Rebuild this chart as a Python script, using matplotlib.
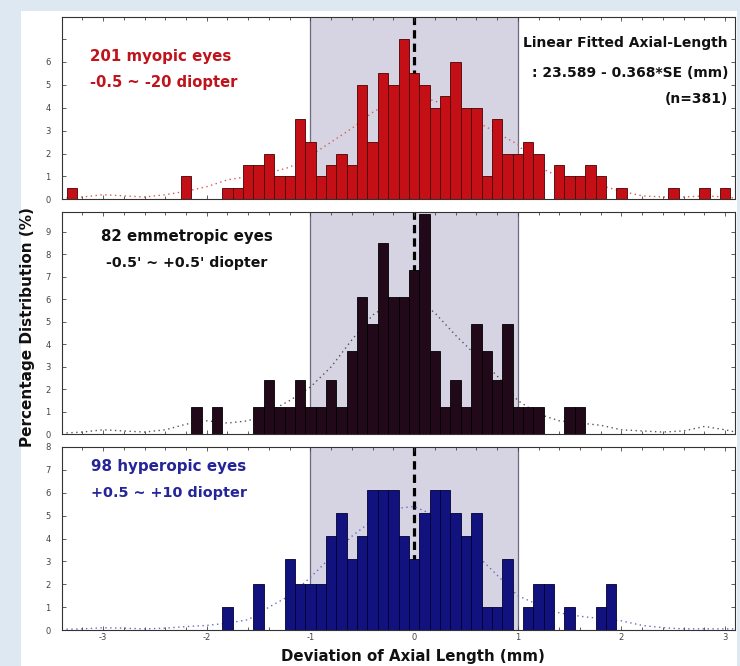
import matplotlib
matplotlib.use("Agg")
import matplotlib.pyplot as plt
from matplotlib.patches import Rectangle
from matplotlib.ticker import MultipleLocator

plt.rcParams['font.family'] = ['DejaVu Sans']

# ---- histogram data: bin centres (mm) and percentage of eyes per 0.1 mm bin ----
myopic_dev = [-3.3, -2.2, -1.8, -1.7, -1.6, -1.5, -1.4, -1.3, -1.2, -1.1, -1.0,
              -0.9, -0.8, -0.7, -0.6, -0.5, -0.4, -0.3, -0.2, -0.1, 0.0, 0.1,
              0.2, 0.3, 0.4, 0.5, 0.6, 0.7, 0.8, 0.9, 1.0, 1.1, 1.2, 1.4, 1.5,
              1.6, 1.7, 1.8, 2.0, 2.5, 2.8, 3.0]
myopic_pct = [0.5, 1.0, 0.5, 0.5, 1.5, 1.5, 2.0, 1.0, 1.0, 3.5, 2.5,
              1.0, 1.5, 2.0, 1.5, 5.0, 2.5, 5.5, 5.0, 7.0, 5.5, 5.0,
              4.0, 4.5, 6.0, 4.0, 4.0, 1.0, 3.5, 2.0, 2.0, 2.5, 2.0, 1.5, 1.0,
              1.0, 1.5, 1.0, 0.5, 0.5, 0.5, 0.5]

emmetropic_dev = [-2.1, -1.9, -1.5, -1.4, -1.3, -1.2, -1.1, -1.0, -0.9, -0.8,
                  -0.7, -0.6, -0.5, -0.4, -0.3, -0.2, -0.1, 0.0, 0.1, 0.2, 0.3,
                  0.4, 0.5, 0.6, 0.7, 0.8, 0.9, 1.0, 1.1, 1.2, 1.5, 1.6]
emmetropic_pct = [1.2, 1.2, 1.2, 2.4, 1.2, 1.2, 2.4, 1.2, 1.2, 2.4,
                  1.2, 3.7, 6.1, 4.9, 8.5, 6.1, 6.1, 7.3, 9.8, 3.7, 1.2,
                  2.4, 1.2, 4.9, 3.7, 2.4, 4.9, 1.2, 1.2, 1.2, 1.2, 1.2]

hyperopic_dev = [-1.8, -1.5, -1.2, -1.1, -1.0, -0.9, -0.8, -0.7, -0.6, -0.5,
                 -0.4, -0.3, -0.2, -0.1, 0.0, 0.1, 0.2, 0.3, 0.4, 0.5, 0.6,
                 0.7, 0.8, 0.9, 1.1, 1.2, 1.3, 1.5, 1.8, 1.9]
hyperopic_pct = [1.0, 2.0, 3.1, 2.0, 2.0, 2.0, 4.1, 5.1, 3.1, 4.1,
                 6.1, 6.1, 6.1, 4.1, 3.1, 5.1, 6.1, 6.1, 5.1, 4.1, 5.1,
                 1.0, 1.0, 3.1, 1.0, 2.0, 2.0, 1.0, 1.0, 2.0]

# ---- smoothed distribution curves (dotted) ----
curve_x = [-3.4, -3.2, -3.0, -2.8, -2.6, -2.4, -2.2, -2.0, -1.8, -1.6, -1.4,
           -1.2, -1.0, -0.8, -0.6, -0.4, -0.2, 0.0, 0.2, 0.4, 0.6, 0.8, 1.0,
           1.2, 1.4, 1.6, 1.8, 2.0, 2.2, 2.4, 2.6, 2.8, 3.0, 3.1]
myopic_curve = [0.05, 0.1, 0.2, 0.15, 0.1, 0.2, 0.35, 0.55, 0.85, 1.0, 1.15,
                1.4, 1.9, 2.5, 3.1, 3.8, 4.3, 4.5, 4.3, 3.9, 3.4, 2.9, 2.4,
                1.4, 1.0, 0.8, 0.6, 0.35, 0.15, 0.1, 0.1, 0.15, 0.1, 0.05]
emmetropic_curve = [0.05, 0.1, 0.2, 0.15, 0.1, 0.2, 0.45, 0.6, 0.5, 0.6, 1.0,
                    1.5, 2.1, 3.0, 4.2, 5.3, 5.9, 6.1, 5.4, 4.4, 3.5, 2.6, 1.5,
                    0.9, 0.6, 0.5, 0.4, 0.2, 0.15, 0.1, 0.15, 0.35, 0.2, 0.1]
hyperopic_curve = [0.03, 0.05, 0.1, 0.08, 0.05, 0.08, 0.15, 0.2, 0.3, 0.45, 1.0,
                   1.5, 2.3, 3.2, 4.1, 4.8, 5.3, 5.4, 5.0, 4.2, 3.3, 2.4, 1.5,
                   1.1, 0.75, 0.6, 0.5, 0.4, 0.2, 0.1, 0.05, 0.05, 0.05, 0.05]

W, H = 740, 666
fig = plt.figure(figsize=(W / 100, H / 100), dpi=100)
fig.patch.set_facecolor('#dde8f2')
fig.add_artist(Rectangle((21 / W, 0), 716 / W, 1 - 11 / H, transform=fig.transFigure,
                         facecolor='white', edgecolor='none', zorder=0))


def fx(x):
    return x / W


def fy(y):
    return 1 - y / H


def make_axes(top_px, bottom_px):
    left, right = 61.6, 734.5
    return fig.add_axes([fx(left), fy(bottom_px), (right - left) / W, (bottom_px - top_px) / H])


panels = [
    dict(top=17.3, bottom=199.3, ymax=7.95, ylabels=range(0, 7),
         dev=myopic_dev, pct=myopic_pct, curve=myopic_curve,
         face='#c40f17', edge='#4a0000', curve_color='#d85a5a'),
    dict(top=212.3, bottom=434.3, ymax=9.87, ylabels=range(0, 10),
         dev=emmetropic_dev, pct=emmetropic_pct, curve=emmetropic_curve,
         face='#22091a', edge='#000000', curve_color='#555555'),
    dict(top=447.0, bottom=630.0, ymax=8.0, ylabels=range(0, 9),
         dev=hyperopic_dev, pct=hyperopic_pct, curve=hyperopic_curve,
         face='#12127e', edge='#000033', curve_color='#6a6ac8'),
]

axes = []
for i, p in enumerate(panels):
    ax = make_axes(p['top'], p['bottom'])
    ax.set_xlim(-3.4, 3.09)
    ax.set_ylim(0, p['ymax'])
    ax.axvspan(-1, 1, facecolor='#d6d4e3', edgecolor='none', zorder=0)
    for xv in (-1, 1):
        ax.axvline(xv, color='#6c6c80', lw=0.9, zorder=0.5)
    ax.axvline(0, color='black', lw=2.3, dashes=(2.6, 1.6), zorder=1)
    ax.plot(curve_x, p['curve'], color=p['curve_color'], lw=1.0,
            linestyle=(0, (1, 2.5)), zorder=1.5)
    ax.bar(p['dev'], p['pct'], width=0.1, color=p['face'], edgecolor=p['edge'],
           linewidth=0.6, zorder=2)
    nmax = int(p['ymax'])
    ax.set_yticks(list(range(0, nmax + 1)))
    ax.set_yticklabels([str(v) if v in p['ylabels'] else '' for v in range(0, nmax + 1)])
    ax.xaxis.set_major_locator(MultipleLocator(1))
    ax.xaxis.set_minor_locator(MultipleLocator(0.2))
    ax.tick_params(axis='both', which='both', direction='in', top=True, right=True,
                   colors='#444444', labelsize=6, length=3, width=0.6)
    ax.tick_params(axis='x', which='minor', length=2)
    ax.tick_params(axis='y', pad=8)
    ax.tick_params(axis='x', pad=2)
    if i < 2:
        ax.tick_params(axis='x', labelbottom=False)
    else:
        ax.set_xticks([-3, -2, -1, 0, 1, 2, 3])
        ax.set_xticklabels(['-3', '-2', '-1', '0', '1', '2', '3'])
    for s in ax.spines.values():
        s.set_color('#333333')
        s.set_linewidth(0.8)
    axes.append(ax)

bold = dict(fontweight='bold')
# panel annotations
fig.text(fx(90), fy(56), '201 myopic eyes', color='#c0141c', fontsize=10.8, va='center', **bold)
fig.text(fx(90), fy(83), '-0.5 ~ -20 diopter', color='#c0141c', fontsize=10.6, va='center', **bold)
fig.text(fx(728), fy(43), 'Linear Fitted Axial-Length', color='#111111', fontsize=10,
         ha='right', va='center', **bold)
fig.text(fx(728), fy(73), ': 23.589 - 0.368*SE (mm)', color='#111111', fontsize=10,
         ha='right', va='center', **bold)
fig.text(fx(728), fy(99), '(n=381)', color='#111111', fontsize=10,
         ha='right', va='center', **bold)
fig.text(fx(187), fy(237), '82 emmetropic eyes', color='#111111', fontsize=10.8,
         ha='center', va='center', **bold)
fig.text(fx(187), fy(263), "-0.5' ~ +0.5' diopter", color='#111111', fontsize=10.2,
         ha='center', va='center', **bold)
fig.text(fx(91), fy(467), '98 hyperopic eyes', color='#25259a', fontsize=10.9, va='center', **bold)
fig.text(fx(91), fy(493), '+0.5 ~ +10 diopter', color='#25259a', fontsize=10.4, va='center', **bold)

# axis titles
fig.text(fx(28), fy(327), 'Percentage Distribution (%)', rotation=90, ha='center', va='center',
         fontsize=11, color='#111111', **bold)
fig.text(fx(413), fy(656), 'Deviation of Axial Length (mm)', ha='center', va='center',
         fontsize=10.8, color='#111111', **bold)

fig.savefig('out.png', dpi=100, facecolor=fig.get_facecolor())
